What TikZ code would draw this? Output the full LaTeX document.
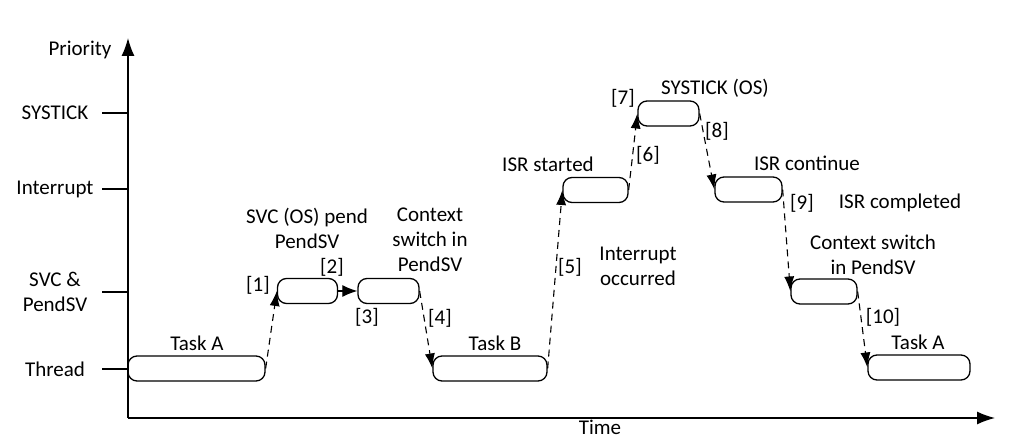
\documentclass[tikz,border=0pt]{standalone}
\usepackage{fontspec}
\setmainfont{Carlito}
\usetikzlibrary{arrows.meta,positioning}

\begin{document}
\begin{tikzpicture}[x=1pt, y=-1pt,
    font=\fontsize{21}{25}\selectfont,
    task/.style={draw, line width=1.3pt, rounded corners=9pt, minimum height=25pt, inner sep=0pt},
    jump/.style={-{Latex[length=15pt,width=10pt]}, line width=1.1pt, dash pattern=on 7pt off 5pt},
    lbl/.style={inner sep=1pt, align=center}
  ]
\useasboundingbox (0,0) rectangle (1015,438);

% Axes
\coordinate (origin) at (128,418);
\coordinate (ytip) at (128,38);
\coordinate (xtip) at (995,418);
\draw[line width=1.3pt, -{Latex[length=18pt,width=13pt]}] (origin) -- (ytip);
\draw[line width=1.3pt, -{Latex[length=18pt,width=13pt]}] (origin) -- (xtip);
\node[lbl] (prio) at (80,50) {Priority};
\node[lbl, inner sep=0pt, anchor=base] (time) at (600,434) {Time};

% Priority levels
\foreach \y/\name/\txt in {113/systick/SYSTICK, 189/irq/Interrupt, 292/svc/{SVC \&\\PendSV}, 369/thread/Thread} {
  \draw[line width=1.3pt] (102,\y) -- (128,\y);
  \node[lbl] (lvl-\name) at (55,\y) {\txt};
}

% Execution blocks
\node[task, minimum width=137pt] (taskA) at (196.5,368.5) {};
\node[task, minimum width=60pt] (svcA) at (307.5,291) {};
\node[task, minimum width=61pt] (svcB) at (388.5,291) {};
\node[task, minimum width=114pt] (taskB) at (490,368.5) {};
\node[task, minimum width=65pt] (isrA) at (595.5,190) {};
\node[task, minimum width=61pt] (tick) at (668.5,113.5) {};
\node[task, minimum width=67pt] (isrB) at (748.5,189.5) {};
\node[task, minimum width=66pt] (pendB) at (824,291.5) {};
\node[task, minimum width=102pt] (taskA2) at (919,367.5) {};

% Transitions
\draw[jump] (taskA.east) -- (svcA.west);
\draw[line width=1.2pt, -{Latex[length=15pt,width=12pt]}] (svcA.east) -- (svcB.west);
\draw[jump] (svcB.east) -- (taskB.west);
\draw[jump] (taskB.east) -- (isrA.west);
\draw[jump] (isrA.east) -- (tick.west);
\draw[jump] (tick.east) -- (isrB.west);
\draw[jump] (isrB.east) -- (pendB.west);
\draw[jump] (pendB.east) -- (taskA2.west);

% Step numbers
\node[lbl] (s1) at (258,285) {[1]};
\node[lbl] (s2) at (332,267) {[2]};
\node[lbl] (s3) at (367,317) {[3]};
\node[lbl] (s4) at (440,318) {[4]};
\node[lbl] (s5) at (570,267) {[5]};
\node[lbl] (s6) at (648,155) {[6]};
\node[lbl] (s7) at (623,98) {[7]};
\node[lbl] (s8) at (717,131) {[8]};
\node[lbl] (s9) at (802,203) {[9]};
\node[lbl] (s10) at (883,317) {[10]};

% Descriptions
\node[lbl] (dTaskA) at (197,343) {Task A};
\node[lbl] (dSvc) at (307,228) {SVC (OS) pend\\PendSV};
\node[lbl] (dCtx) at (430,240) {Context\\switch in\\PendSV};
\node[lbl] (dTaskB) at (495,343) {Task B};
\node[lbl] (dIsrA) at (548,164) {ISR started};
\node[lbl] (dIrq) at (638,266) {Interrupt\\occurred};
\node[lbl] (dTick) at (715,88) {SYSTICK (OS)};
\node[lbl] (dIsrB) at (807,163) {ISR continue};
\node[lbl] (dDone) at (900,203) {ISR completed};
\node[lbl] (dCtx2) at (873,255) {Context switch\\in PendSV};
\node[lbl] (dTaskA2) at (918,342) {Task A};

\end{tikzpicture}
\end{document}
